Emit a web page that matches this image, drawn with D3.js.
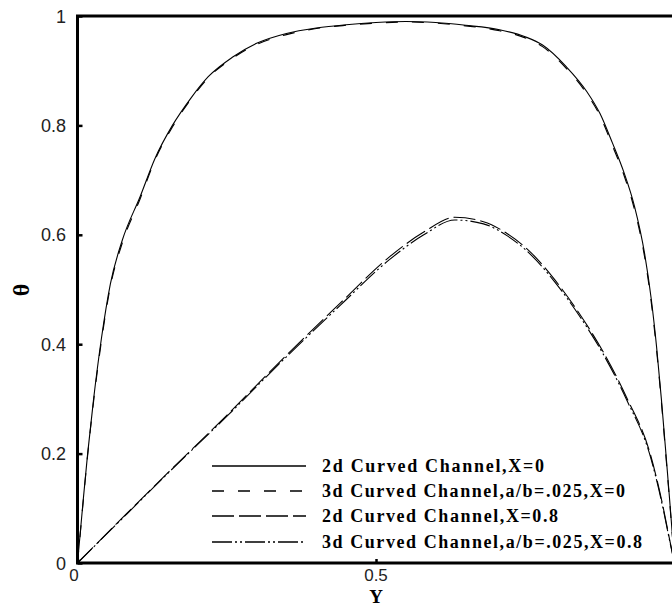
<!DOCTYPE html>
<html>
<head>
<meta charset="utf-8">
<script src="https://cdn.jsdelivr.net/npm/d3@7"></script>
<style>
  html, body { margin: 0; padding: 0; background: #fff; }
  svg { display: block; }
</style>
</head>
<body>
<svg id="chart" width="672" height="609"></svg>
<script>
// ---- data ----
const yTicks = [0, 0.2, 0.4, 0.6, 0.8, 1];
const yTickLabels = ["0", "0.2", "0.4", "0.6", "0.8", "1"];
const xTicks = [0, 0.5];
const xTickLabels = ["0", "0.5"];

const seriesNames = [
  "2d Curved Channel,X=0",
  "3d Curved Channel,a/b=.025,X=0",
  "2d Curved Channel,X=0.8",
  "3d Curved Channel,a/b=.025,X=0.8"
];

// 2d, X=0 (solid)
const yA = [0, 0.005, 0.01, 0.017, 0.027, 0.04, 0.055, 0.075, 0.105, 0.13, 0.159, 0.19, 0.219, 0.26, 0.30, 0.35, 0.40, 0.45, 0.50, 0.55, 0.60, 0.65, 0.707, 0.75, 0.779, 0.819, 0.853, 0.875, 0.896, 0.915, 0.933, 0.95, 0.961, 0.97, 0.978, 0.986, 0.993, 1.0];
const tA = [0, 0.06, 0.12, 0.20, 0.30, 0.41, 0.51, 0.59, 0.67, 0.74, 0.80, 0.85, 0.889, 0.925, 0.950, 0.968, 0.978, 0.984, 0.988, 0.990, 0.988, 0.983, 0.975, 0.962, 0.947, 0.907, 0.862, 0.822, 0.768, 0.715, 0.652, 0.565, 0.483, 0.395, 0.30, 0.195, 0.10, 0];
// 3d, X=0 (dashed)
const yB = [0, 0.005, 0.01, 0.017, 0.027, 0.04, 0.055, 0.075, 0.105, 0.13, 0.159, 0.19, 0.219, 0.26, 0.30, 0.35, 0.40, 0.45, 0.50, 0.55, 0.60, 0.65, 0.707, 0.75, 0.779, 0.819, 0.853, 0.875, 0.896, 0.915, 0.933, 0.95, 0.961, 0.97, 0.978, 0.986, 0.993, 1.0];
const tB = [0, 0.058, 0.118, 0.197, 0.296, 0.405, 0.505, 0.585, 0.666, 0.737, 0.797, 0.848, 0.887, 0.923, 0.948, 0.966, 0.977, 0.983, 0.987, 0.989, 0.987, 0.982, 0.973, 0.960, 0.944, 0.904, 0.858, 0.818, 0.763, 0.710, 0.646, 0.559, 0.477, 0.389, 0.295, 0.19, 0.097, 0];
// 2d, X=0.8 (long dash)
const yC = [0, 0.083, 0.156, 0.25, 0.35, 0.44, 0.523, 0.58, 0.632, 0.68, 0.72, 0.76, 0.80, 0.84, 0.88, 0.92, 0.96, 0.98, 0.992, 1.0];
const tC = [0, 0.091, 0.17, 0.27, 0.38, 0.475, 0.56, 0.605, 0.632, 0.624, 0.602, 0.567, 0.517, 0.457, 0.387, 0.302, 0.197, 0.107, 0.042, 0];
// 3d, X=0.8 (dash-dot-dot)
const yD = [0, 0.083, 0.156, 0.25, 0.35, 0.44, 0.523, 0.58, 0.632, 0.68, 0.72, 0.76, 0.80, 0.84, 0.88, 0.92, 0.96, 0.98, 0.992, 1.0];
const tD = [0, 0.090, 0.169, 0.268, 0.377, 0.471, 0.555, 0.60, 0.627, 0.620, 0.598, 0.563, 0.513, 0.453, 0.383, 0.298, 0.193, 0.104, 0.040, 0];

// ---- layout ----
const svg = d3.select("#chart");
const x = d3.scaleLinear().domain([0, 1]).range([77.5, 674.5]);
const y = d3.scaleLinear().domain([0, 1]).range([563, 16]);

const styles = [
  { dash: null },
  { dash: "12,14" },
  { dash: "22,5" },
  { dash: "20,3,2,3,2,3" }
];
const series = [
  yA.map((v, i) => [v, tA[i]]),
  yB.map((v, i) => [v, tB[i]]),
  yC.map((v, i) => [v, tC[i]]),
  yD.map((v, i) => [v, tD[i]])
];

const line = d3.line().x(d => x(d[0])).y(d => y(d[1])).curve(d3.curveMonotoneX);

series.forEach((s, i) => {
  svg.append("path")
    .attr("d", line(s))
    .attr("fill", "none")
    .attr("stroke", "#000")
    .attr("stroke-width", 1.1)
    .attr("stroke-dasharray", styles[i].dash);
});

// frame (top, left, bottom; right edge lies outside the picture)
svg.append("path")
  .attr("d", `M${x(1) + 2},${y(1)}H${x(0)}V${y(0)}H${x(1) + 2}`)
  .attr("stroke", "#000").attr("stroke-width", 3).attr("fill", "none")
  .attr("stroke-linejoin", "miter");

// left axis (ticks inward)
const yAxis = d3.axisRight(y).tickValues(yTicks).tickSize(5).tickFormat(() => "");
const gy = svg.append("g").attr("transform", `translate(${x(0)},0)`).call(yAxis);
gy.select(".domain").remove();
gy.selectAll(".tick line").attr("stroke", "#000").attr("stroke-width", 2.5);

svg.append("g").selectAll("text").data(yTicks).join("text")
  .attr("x", 66)
  .attr("y", d => y(d) + 6.5)
  .attr("text-anchor", "end")
  .attr("font-family", "Liberation Sans, Arial, sans-serif")
  .attr("font-size", 18)
  .attr("fill", "#222")
  .text((d, i) => yTickLabels[i]);

// bottom axis (ticks inward)
const xAxis = d3.axisTop(x).tickValues(xTicks).tickSize(4).tickFormat(() => "");
const gx = svg.append("g").attr("transform", `translate(0,${y(0)})`).call(xAxis);
gx.select(".domain").remove();
gx.selectAll(".tick line").attr("stroke", "#000").attr("stroke-width", 2.5);

svg.append("g").selectAll("text").data(xTicks).join("text")
  .attr("x", d => x(d) + (d === 0 ? -3.5 : 0))
  .attr("y", 581)
  .attr("text-anchor", "middle")
  .attr("font-family", "Liberation Sans, Arial, sans-serif")
  .attr("font-size", 17)
  .attr("fill", "#222")
  .text((d, i) => xTickLabels[i]);

// axis titles
svg.append("text")
  .attr("x", 376).attr("y", 603)
  .attr("text-anchor", "middle")
  .attr("font-family", "Liberation Serif, Times New Roman, serif")
  .attr("font-weight", "bold")
  .attr("font-size", 19)
  .text("Y");

svg.append("text")
  .attr("transform", "translate(29,290) rotate(-90)")
  .attr("text-anchor", "middle")
  .attr("font-family", "Liberation Serif, Times New Roman, serif")
  .attr("font-weight", "bold")
  .attr("font-size", 24)
  .text("θ");

// legend
const legRows = [466, 491, 516, 542];
const legEnds = [544, 625, 558, 642];
const leg = svg.append("g");
seriesNames.forEach((name, i) => {
  leg.append("line")
    .attr("x1", 212).attr("x2", 306)
    .attr("y1", legRows[i]).attr("y2", legRows[i])
    .attr("stroke", "#000").attr("stroke-width", 1.3)
    .attr("stroke-dasharray", styles[i].dash);
  leg.append("text")
    .attr("x", 322).attr("y", legRows[i] + 6)
    .attr("font-family", "Liberation Serif, Times New Roman, serif")
    .attr("font-weight", "bold")
    .attr("font-size", 18)
    .attr("textLength", legEnds[i] - 322)
    .attr("lengthAdjust", "spacing")
    .text(name);
});
</script>
</body>
</html>
